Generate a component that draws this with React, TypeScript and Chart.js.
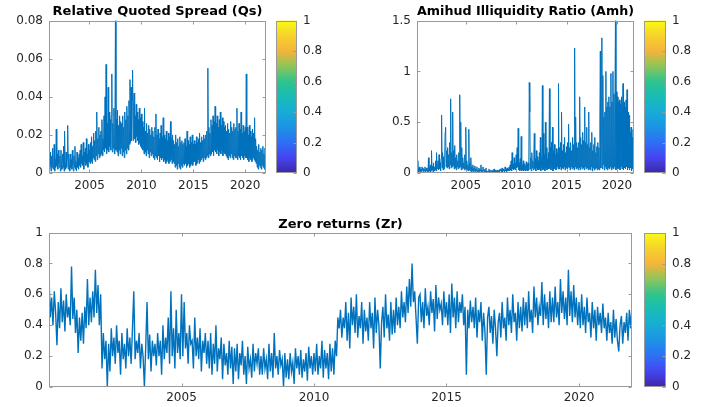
import React, { useEffect, useRef } from 'react';
import { Chart, registerables } from 'chart.js';

Chart.register(...registerables);

// ---------------- data ----------------
// Relative quoted spread, in thousandths (value / 1000), one sample every 0.05 year from 2001.1
const QS_START = 2001.1;
const QS_STEP = 0.05;
const QS_VALUES_E3 = [
  8, 2, 11, 4, 1, 9, 3, 13, 2, 6, 15, 1, 7, 3, 23, 4, 10, 2, 12, 5,
  3, 9, 1, 12, 4, 2, 10, 3, 14, 1, 22, 5, 2, 11, 3, 8, 25, 2, 10, 4,
  1, 10, 3, 7, 2, 12, 4, 1, 9, 3, 14, 2, 6, 1, 11, 3, 8, 2, 10, 4,
  12, 3, 15, 5, 9, 4, 16, 2, 11, 6, 13, 4, 18, 5, 10, 3, 15, 6, 12, 5,
  16, 6, 19, 5, 14, 8, 21, 7, 17, 6, 22, 9, 32, 7, 18, 10, 24, 8, 20, 9,
  22, 10, 28, 9, 18, 12, 30, 11, 40, 13, 57, 10, 26, 12, 45, 11, 32, 14, 28, 12,
  30, 52, 11, 26, 13, 34, 10, 24, 80, 12, 28, 11, 33, 9, 25, 12, 30, 10, 27, 13,
  26, 9, 30, 11, 24, 8, 32, 12, 28, 10, 35, 13, 30, 12, 38, 15, 49, 16, 45, 17,
  38, 54, 17, 35, 42, 18, 30, 16, 36, 19, 32, 17, 28, 15, 34, 16, 29, 14, 31, 13,
  27, 12, 24, 10, 34, 11, 22, 9, 26, 12, 21, 10, 25, 8, 23, 11, 20, 9, 24, 10,
  22, 8, 19, 7, 24, 9, 31, 8, 20, 7, 23, 9, 18, 6, 21, 8, 25, 7, 19, 8,
  29, 6, 20, 7, 18, 5, 22, 6, 17, 7, 21, 5, 19, 6, 27, 7, 18, 5, 20, 6,
  17, 5, 15, 3, 20, 4, 16, 2, 18, 5, 14, 3, 19, 2, 16, 4, 17, 3, 15, 5,
  16, 4, 18, 5, 14, 3, 22, 4, 17, 5, 15, 3, 19, 4, 16, 5, 20, 4, 15, 6,
  17, 6, 15, 4, 19, 5, 16, 7, 18, 5, 21, 6, 16, 7, 19, 8, 17, 6, 20, 8,
  18, 7, 20, 8, 22, 9, 55, 8, 24, 10, 21, 9, 28, 10, 25, 11, 30, 9, 27, 12,
  35, 11, 26, 10, 30, 12, 24, 9, 28, 11, 32, 10, 25, 12, 29, 9, 27, 11, 24, 10,
  25, 9, 22, 8, 26, 7, 23, 9, 21, 8, 27, 10, 24, 8, 22, 7, 26, 9, 23, 8,
  24, 8, 34, 7, 22, 9, 26, 8, 23, 7, 32, 9, 21, 8, 25, 7, 22, 9, 24, 8,
  52, 8, 24, 7, 20, 6, 25, 8, 22, 7, 19, 6, 23, 8, 21, 7, 29, 6, 18, 5,
  14, 3, 12, 2, 15, 4, 11, 3, 13, 2, 12, 4, 14, 3, 10, 2, 13, 4, 11, 8,
];

// Amihud illiquidity ratio, in hundredths (value / 100), one sample every 0.05 year from 2000.2
const AMH_START = 2000.2;
const AMH_STEP = 0.05;
const AMH_VALUES_E2 = [
  12, 2, 5, 1, 6, 2, 4, 1, 3, 6, 2, 5, 1, 4, 2, 6, 1, 3, 5, 2,
  3, 1, 15, 2, 6, 1, 8, 2, 22, 3, 7, 1, 10, 2, 6, 3, 12, 2, 20, 4,
  5, 12, 3, 18, 4, 10, 2, 14, 57, 5, 20, 3, 16, 4, 9, 40, 45, 6, 22, 5,
  25, 6, 18, 4, 30, 8, 73, 5, 20, 6, 60, 7, 22, 4, 27, 5, 15, 3, 18, 6,
  12, 4, 20, 5, 77, 6, 50, 3, 25, 4, 15, 5, 10, 3, 18, 4, 45, 2, 12, 3,
  8, 2, 43, 3, 10, 2, 15, 1, 6, 2, 8, 1, 5, 2, 7, 1, 4, 2, 6, 1,
  3, 1, 5, 1, 4, 2, 8, 1, 3, 1, 6, 2, 4, 1, 3, 1, 5, 1, 2, 1,
  2, 1, 4, 1, 3, 1, 2, 0, 3, 1, 2, 1, 4, 1, 3, 1, 2, 1, 3, 1,
  2, 1, 3, 1, 4, 2, 3, 1, 5, 1, 4, 2, 3, 1, 6, 2, 4, 1, 5, 2,
  4, 2, 6, 2, 8, 3, 12, 2, 20, 4, 9, 3, 15, 4, 10, 3, 18, 5, 25, 6,
  44, 3, 10, 2, 14, 3, 36, 2, 8, 3, 12, 2, 9, 3, 7, 2, 11, 3, 9, 2,
  10, 3, 89, 60, 4, 15, 2, 20, 5, 12, 3, 18, 39, 4, 14, 2, 22, 5, 16, 3,
  12, 3, 20, 4, 35, 2, 15, 5, 86, 3, 39, 4, 18, 2, 50, 5, 25, 3, 14, 4,
  20, 4, 83, 5, 25, 3, 30, 6, 45, 2, 22, 4, 28, 5, 18, 3, 24, 6, 20, 4,
  88, 4, 25, 6, 30, 3, 60, 5, 22, 4, 28, 6, 35, 3, 20, 5, 26, 4, 30, 6,
  48, 5, 25, 3, 30, 6, 22, 4, 35, 5, 28, 3, 123, 6, 55, 4, 30, 5, 25, 3,
  30, 5, 75, 3, 35, 6, 28, 4, 40, 5, 32, 3, 65, 6, 30, 4, 45, 5, 28, 3,
  60, 4, 25, 3, 30, 6, 40, 2, 22, 5, 28, 3, 35, 4, 20, 5, 26, 3, 30, 4,
  25, 3, 50, 120, 5, 45, 133, 4, 96, 8, 55, 3, 60, 6, 100, 4, 65, 3, 70, 5,
  75, 4, 65, 6, 98, 3, 70, 5, 100, 4, 78, 6, 72, 150, 3, 80, 5, 75, 4, 70,
  5, 72, 3, 68, 6, 75, 4, 60, 88, 3, 70, 5, 65, 4, 72, 6, 82, 3, 60, 5,
  57, 3, 40, 5, 45, 2, 35, 4, 43, 6,
];

// Zero returns, in hundredths (value / 100), one sample every 0.05 year from 2000.0
const ZR_START = 2000.0;
const ZR_STEP = 0.05;
const ZR_VALUES_E2 = [
  72, 45, 58, 40, 62, 48, 27, 55, 38, 64, 42, 56, 36, 60, 45, 52, 40, 78, 44, 58,
  35, 50, 22, 45, 30, 48, 28, 52, 38, 70, 40, 58, 42, 62, 45, 76, 48, 66, 40, 60,
  12, 35, 18, 30, 0, 28, 10, 38, 20, 32, 15, 40, 22, 30, 8, 35, 18, 28, 12, 38,
  20, 32, 15, 38, 62, 18, 30, 22, 35, 12, 28, 20, 0, 26, 55, 18, 34, 10, 30, 20,
  28, 14, 35, 20, 30, 8, 40, 18, 32, 22, 45, 15, 62, 20, 38, 12, 50, 22, 35, 18,
  60, 20, 55, 25, 35, 15, 40, 28, 30, 12, 45, 20, 32, 18, 38, 10, 30, 22, 35, 15,
  30, 12, 35, 8, 28, 15, 40, 10, 25, 18, 32, 5, 28, 14, 22, 8, 30, 12, 26, 2,
  25, 10, 28, 5, 22, 14, 30, 8, 20, 2, 26, 12, 18, 6, 28, 10, 22, 15, 25, 8,
  20, 8, 25, 12, 18, 5, 28, 10, 22, 6, 35, 12, 20, 8, 24, 14, 18, 0, 22, 6,
  18, 5, 22, 10, 16, 2, 25, 12, 20, 8, 24, 6, 18, 10, 22, 4, 26, 12, 20, 8,
  22, 10, 28, 8, 20, 12, 30, 6, 24, 12, 22, 5, 28, 10, 25, 8, 30, 20, 45, 38,
  50, 32, 45, 38, 55, 30, 48, 25, 58, 40, 52, 35, 60, 32, 46, 38, 55, 28, 50, 36,
  45, 30, 55, 38, 48, 25, 58, 35, 50, 40, 12, 42, 52, 32, 60, 38, 47, 30, 55, 34,
  50, 35, 58, 40, 52, 38, 62, 45, 55, 42, 65, 48, 70, 52, 80, 55, 62, 45, 28, 58,
  60, 42, 55, 38, 64, 46, 52, 40, 62, 48, 57, 36, 66, 44, 58, 50, 54, 40, 62, 45,
  55, 40, 60, 35, 67, 45, 58, 38, 62, 42, 55, 48, 60, 40, 52, 8, 50, 38, 56, 42,
  52, 38, 58, 32, 50, 42, 55, 30, 48, 36, 8, 45, 52, 35, 46, 28, 50, 38, 20, 42,
  48, 32, 55, 38, 45, 30, 58, 40, 50, 35, 60, 42, 48, 30, 55, 38, 52, 36, 58, 40,
  55, 38, 62, 42, 50, 35, 65, 45, 58, 40, 52, 46, 68, 40, 60, 44, 55, 38, 62, 42,
  58, 42, 65, 45, 55, 40, 70, 48, 62, 44, 58, 40, 76, 46, 62, 42, 66, 45, 58, 40,
  55, 38, 60, 40, 52, 35, 58, 42, 48, 32, 55, 38, 50, 30, 52, 40, 48, 35, 54, 38,
  45, 30, 48, 35, 42, 28, 50, 32, 44, 30, 23, 40, 46, 28, 42, 35, 48, 30, 50, 38,
  52,
];

const QS_X_RANGE = [2001.1, 2022.0];
const AMH_X_RANGE = [2000.16, 2021.69];
const ZR_X_RANGE = [2000.0, 2022.0];
const YEAR_TICKS = [2005, 2010, 2015, 2020];
const QS_Y_TICKS = [0, 0.02, 0.04, 0.06, 0.08];
const AMH_Y_TICKS = [0, 0.5, 1, 1.5];
const ZR_Y_TICKS = [0, 0.2, 0.4, 0.6, 0.8, 1];
const CB_TICKS = [0, 0.2, 0.4, 0.6, 0.8, 1];
const PARULA_STOPS: [number, string][] = [
  [0.0, '#3e26a8'],
  [0.1, '#4545f0'],
  [0.2, '#2f6ff5'],
  [0.3, '#1b93e6'],
  [0.4, '#17acd6'],
  [0.5, '#18bcb6'],
  [0.6, '#2ec48e'],
  [0.7, '#8dc55a'],
  [0.8, '#f5b43a'],
  [0.9, '#f6d22c'],
  [1.0, '#f9fb14'],
];

// ---------------- styling ----------------
const FONT = '"DejaVu Sans", sans-serif';
const LINE_COLOR = 'rgb(0,114,189)';
const AXIS_COLOR = '#9a9a9a';
const TEXT_COLOR = '#262626';

const boxPlugin = {
  id: 'matlabBox',
  afterDatasetsDraw(chart: any, _args: any, opts: any) {
    const a = chart.chartArea;
    const ctx = chart.ctx;
    ctx.save();
    ctx.strokeStyle = AXIS_COLOR;
    ctx.lineWidth = 1;
    const l = Math.round(a.left) + 0.5;
    const t = Math.round(a.top) + 0.5;
    const r = Math.round(a.right) - 0.5;
    const b = Math.round(a.bottom) - 0.5;
    ctx.strokeRect(l, t, r - l, b - t);
    const tl = opts.tickLen ?? 3;
    ctx.beginPath();
    if (opts.xTicks) {
      const xs = chart.scales.x;
      for (const tk of xs.ticks) {
        const px = Math.round(xs.getPixelForValue(tk.value)) + 0.5;
        ctx.moveTo(px, b);
        ctx.lineTo(px, b - tl);
        ctx.moveTo(px, t);
        ctx.lineTo(px, t + tl);
      }
    }
    if (opts.yTicks) {
      const ys = chart.scales.y;
      for (const tk of ys.ticks) {
        const py = Math.round(ys.getPixelForValue(tk.value)) + 0.5;
        if (opts.yLeft) {
          ctx.moveTo(l, py);
          ctx.lineTo(l + tl, py);
        }
        ctx.moveTo(r, py);
        ctx.lineTo(r - tl, py);
      }
    }
    ctx.stroke();
    ctx.restore();
  },
};

function fmt(v: number) {
  return String(v);
}

type LineSpec = {
  values: number[];
  scale: number;
  start: number;
  step: number;
  xRange: number[];
  yTicks: number[];
  title: string;
  yAxisWidth: number;
  xAxisHeight: number;
  padRight: number;
  titlePadTop: number;
  titlePadBottom: number;
  xLabelPad: number;
  lineWidth: number;
};

function lineConfig(s: LineSpec): any {
  const points = s.values.map((v, i) => ({ x: s.start + i * s.step, y: v / s.scale }));
  return {
    type: 'line',
    data: {
      datasets: [
        {
          data: points,
          borderColor: LINE_COLOR,
          borderWidth: s.lineWidth,
          pointRadius: 0,
          tension: 0,
          fill: false,
        },
      ],
    },
    options: {
      animation: false,
      responsive: false,
      events: [],
      layout: { padding: { left: 0, right: s.padRight, top: 0, bottom: 0 } },
      plugins: {
        legend: { display: false },
        tooltip: { enabled: false },
        title: {
          display: true,
          text: s.title,
          fullSize: false,
          color: '#000',
          font: { family: FONT, size: 13, weight: 'bold', lineHeight: 1.2 },
          padding: { top: s.titlePadTop, bottom: s.titlePadBottom },
        },
        matlabBox: { xTicks: true, yTicks: true, yLeft: true, tickLen: 3 },
      },
      scales: {
        x: {
          type: 'linear',
          min: s.xRange[0],
          max: s.xRange[1],
          border: { display: false },
          grid: { display: false, drawTicks: false },
          ticks: {
            color: TEXT_COLOR,
            font: { family: FONT, size: 12 },
            padding: s.xLabelPad,
            autoSkip: false,
            maxRotation: 0,
            callback: (v: number) => fmt(v),
          },
          afterBuildTicks: (sc: any) => {
            sc.ticks = YEAR_TICKS.map((v) => ({ value: v }));
          },
          afterFit: (sc: any) => {
            sc.height = s.xAxisHeight;
          },
        },
        y: {
          type: 'linear',
          min: s.yTicks[0],
          max: s.yTicks[s.yTicks.length - 1],
          border: { display: false },
          grid: { display: false, drawTicks: false },
          ticks: {
            color: TEXT_COLOR,
            font: { family: FONT, size: 12 },
            padding: 6,
            autoSkip: false,
            callback: (v: number) => fmt(v),
          },
          afterBuildTicks: (sc: any) => {
            sc.ticks = s.yTicks.map((v) => ({ value: v }));
          },
          afterFit: (sc: any) => {
            sc.width = s.yAxisWidth;
          },
        },
      },
    },
    plugins: [boxPlugin],
  };
}

function colorbarConfig(padLeft: number, padTop: number, padBottom: number, axisWidth: number): any {
  return {
    type: 'bar',
    data: {
      labels: [''],
      datasets: [
        {
          data: [1],
          borderWidth: 0,
          barPercentage: 1,
          categoryPercentage: 1,
          backgroundColor: (ctx: any) => {
            const area = ctx.chart.chartArea;
            if (!area) return PARULA_STOPS[5][1];
            const g = ctx.chart.ctx.createLinearGradient(0, area.bottom, 0, area.top);
            PARULA_STOPS.forEach(([p, c]) => g.addColorStop(p, c));
            return g;
          },
        },
      ],
    },
    options: {
      animation: false,
      responsive: false,
      events: [],
      layout: { padding: { left: padLeft, right: 0, top: padTop, bottom: padBottom } },
      plugins: {
        legend: { display: false },
        tooltip: { enabled: false },
        matlabBox: { xTicks: false, yTicks: true, yLeft: false, tickLen: 3 },
      },
      scales: {
        x: { display: false },
        y: {
          position: 'right',
          min: 0,
          max: 1,
          border: { display: false },
          grid: { display: false, drawTicks: false },
          ticks: {
            color: TEXT_COLOR,
            font: { family: FONT, size: 12 },
            padding: 6,
            autoSkip: false,
            callback: (v: number) => fmt(v),
          },
          afterBuildTicks: (sc: any) => {
            sc.ticks = CB_TICKS.map((v) => ({ value: v }));
          },
          afterFit: (sc: any) => {
            sc.width = axisWidth;
          },
        },
      },
    },
    plugins: [boxPlugin],
  };
}

function ChartCanvas(props: { make: () => any; left: number; top: number; width: number; height: number }) {
  const ref = useRef<HTMLCanvasElement | null>(null);
  useEffect(() => {
    const chart = new Chart(ref.current as HTMLCanvasElement, props.make());
    return () => chart.destroy();
  }, []);
  return (
    <canvas
      ref={ref}
      width={props.width}
      height={props.height}
      style={{ position: 'absolute', left: props.left, top: props.top, width: props.width, height: props.height, display: 'block' }}
    />
  );
}

export default function App() {
  return (
    <div style={{ position: 'absolute', left: 0, top: 0, width: 702, height: 407, background: '#fff', overflow: 'hidden' }}>
      <ChartCanvas
        left={0}
        top={0}
        width={270}
        height={200}
        make={() =>
          lineConfig({
            values: QS_VALUES_E3,
            scale: 1000,
            start: QS_START,
            step: QS_STEP,
            xRange: QS_X_RANGE,
            yTicks: QS_Y_TICKS,
            title: 'Relative Quoted Spread (Qs)',
            yAxisWidth: 49,
            xAxisHeight: 27,
            padRight: 4,
            titlePadTop: 4,
            titlePadBottom: 1,
            xLabelPad: 6,
            lineWidth: 1,
          })
        }
      />
      <ChartCanvas left={270} top={0} width={60} height={200} make={() => colorbarConfig(6, 20.5, 27, 33)} />
      <ChartCanvas
        left={350}
        top={0}
        width={290}
        height={200}
        make={() =>
          lineConfig({
            values: AMH_VALUES_E2,
            scale: 100,
            start: AMH_START,
            step: AMH_STEP,
            xRange: AMH_X_RANGE,
            yTicks: AMH_Y_TICKS,
            title: 'Amihud Illiquidity Ratio (Amh)',
            yAxisWidth: 67,
            xAxisHeight: 27,
            padRight: 6,
            titlePadTop: 4,
            titlePadBottom: 1,
            xLabelPad: 6,
            lineWidth: 1,
          })
        }
      />
      <ChartCanvas left={640} top={0} width={60} height={200} make={() => colorbarConfig(4, 20.5, 27, 34)} />
      <ChartCanvas
        left={0}
        top={200}
        width={640}
        height={207}
        make={() =>
          lineConfig({
            values: ZR_VALUES_E2,
            scale: 100,
            start: ZR_START,
            step: ZR_STEP,
            xRange: ZR_X_RANGE,
            yTicks: ZR_Y_TICKS,
            title: 'Zero returns (Zr)',
            yAxisWidth: 49,
            xAxisHeight: 20,
            padRight: 8,
            titlePadTop: 17,
            titlePadBottom: 0,
            xLabelPad: 4,
            lineWidth: 1.4,
          })
        }
      />
      <ChartCanvas left={640} top={200} width={60} height={207} make={() => colorbarConfig(4, 33, 20, 34)} />
    </div>
  );
}
